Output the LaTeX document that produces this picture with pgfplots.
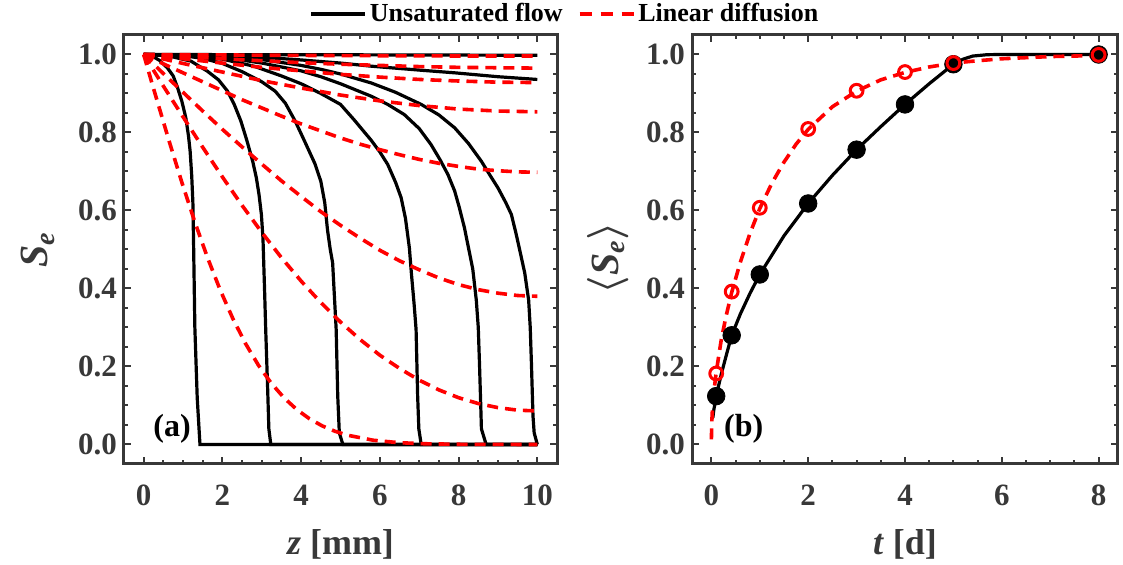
\documentclass[border=0pt]{standalone}
\usepackage{fontspec}
\setmainfont{Liberation Serif}
\usepackage{pgfplots}
\pgfplotsset{compat=1.18}
\definecolor{framegray}{gray}{0.22}
\begin{document}
\begin{tikzpicture}
\pgfplotsset{
  every axis/.append style={
    scale only axis,
    height=214.5pt,
    ymin=-0.05, ymax=1.05,
    ytick={0,0.2,0.4,0.6,0.8,1.0},
    minor tick num=3,
    axis line style={line width=1.5pt, framegray},
    major tick length=3.5pt, minor tick length=2pt,
    every tick/.style={framegray, line width=1pt},
    tick label style={font=\bfseries\fontsize{15.5}{18}\selectfont, text=framegray},
    /pgf/number format/assume math mode=true,
    yticklabel style={/pgf/number format/fixed, /pgf/number format/fixed zerofill, /pgf/number format/precision=1},
    xticklabel style={yshift=-7pt},
    xlabel style={font=\bfseries\fontsize{18}{21}\selectfont, text=framegray, at={(axis description cs:0.5,-0.187)}, anchor=center},
    ylabel style={font=\bfseries\fontsize{20}{23}\selectfont, text=framegray, anchor=center},
  },
  blk/.style={black, line width=1.6pt, forget plot},
  rdd/.style={red, line width=1.8pt, dash pattern=on 5.5pt off 3.5pt, forget plot},
}
% ---------------- panel (a) ----------------
\begin{axis}[at={(0pt,0pt)}, anchor=south west, width=216.5pt,
  xmin=-0.5, xmax=10.5, xtick={0,2,4,6,8,10},
  xlabel={\textit{z} [mm]},
  ylabel={\textit{S}\textsubscript{\textit{e}}},
  ylabel style={at={(axis description cs:-0.199,0.5)}},
  legend style={at={(axis description cs:1.0196,1.049)}, anchor=center, draw=none, fill=none,
    font=\bfseries\fontsize{13}{15}\selectfont, legend columns=2,
    /tikz/every even column/.append style={column sep=6pt},
    nodes={inner sep=1.5pt}},
  legend image code/.code={\draw[#1] (0pt,0pt) -- (27pt,0pt);},
]
\addlegendimage{black, line width=1.6pt}
\addlegendentry{Unsaturated flow}
\addlegendimage{red, line width=1.8pt, dash pattern=on 6pt off 4.5pt}
\addlegendentry{Linear diffusion}
% unsaturated flow profiles
\addplot[blk] coordinates {(0,1) (0.2,0.997) (0.4,0.985) (0.6,0.966) (0.75,0.945) (0.86,0.915) (0.97,0.88) (1.07,0.838) (1.14,0.79) (1.18,0.752) (1.22,0.69) (1.25,0.62) (1.27,0.5) (1.30,0.3) (1.36,0.12) (1.43,0) (10,0)};
\addplot[blk] coordinates {(0,1) (0.6,0.997) (1.2,0.983) (1.62,0.957) (1.9,0.935) (2.13,0.906) (2.3,0.872) (2.47,0.829) (2.62,0.78) (2.77,0.726) (2.86,0.685) (2.93,0.641) (2.99,0.59) (3.03,0.53) (3.07,0.4) (3.10,0.295) (3.15,0.141) (3.18,0.04) (3.23,0) (10,0)};
\addplot[blk] coordinates {(0,1) (1,0.997) (1.5,0.99) (2,0.977) (2.5,0.956) (3,0.93) (3.34,0.906) (3.6,0.875) (3.85,0.829) (4.1,0.775) (4.35,0.72) (4.5,0.675) (4.6,0.62) (4.67,0.55) (4.74,0.50) (4.80,0.466) (4.89,0.295) (4.93,0.124) (4.97,0.03) (5.06,0) (10,0)};
\addplot[blk] coordinates {(0,1) (1,0.998) (2,0.988) (2.8,0.97) (3.5,0.945) (4.0,0.925) (4.5,0.90) (5.0,0.872) (5.35,0.832) (5.78,0.78) (6.0,0.75) (6.2,0.718) (6.4,0.672) (6.54,0.633) (6.65,0.58) (6.75,0.504) (6.8,0.44) (6.87,0.36) (6.92,0.295) (6.96,0.124) (6.99,0.04) (7.05,0) (10,0)};
\addplot[blk] coordinates {(0,1) (1,0.999) (2,0.993) (3,0.978) (4,0.958) (4.5,0.943) (5.0,0.925) (5.78,0.893) (6.2,0.872) (6.62,0.846) (7.0,0.81) (7.30,0.769) (7.53,0.73) (7.73,0.692) (7.9,0.65) (8.02,0.607) (8.15,0.555) (8.26,0.50) (8.36,0.45) (8.45,0.37) (8.50,0.30) (8.53,0.21) (8.56,0.11) (8.58,0.04) (8.70,0) (10,0)};
\addplot[blk] coordinates {(0,1) (1,0.999) (2,0.996) (3,0.987) (4,0.972) (4.5,0.962) (5.0,0.95) (5.78,0.927) (6.4,0.903) (7.05,0.872) (7.5,0.845) (7.9,0.812) (8.25,0.772) (8.58,0.726) (8.8,0.69) (9.0,0.658) (9.2,0.62) (9.34,0.59) (9.45,0.545) (9.55,0.50) (9.68,0.44) (9.78,0.37) (9.82,0.30) (9.85,0.209) (9.89,0.073) (9.92,0.03) (10,0)};
\addplot[blk] coordinates {(0,1) (1,0.999) (2,0.997) (3,0.993) (4,0.986) (5,0.978) (5.78,0.970) (7,0.96) (7.9,0.953) (9,0.943) (10,0.936)};
\addplot[blk] coordinates {(0,1) (3,0.9995) (6,0.999) (10,0.998)};
% linear diffusion profiles
\addplot[rdd] coordinates {(0,1) (0.1,0.965) (0.2,0.930) (0.324,0.8875) (0.648,0.7773) (0.972,0.6714) (1.296,0.5716) (1.62,0.4795) (1.944,0.3961) (2.268,0.3222) (2.592,0.2579) (2.916,0.2031) (3.24,0.1573) (3.564,0.1198) (3.888,0.0897) (4.212,0.066) (4.536,0.0477) (4.86,0.0339) (5.184,0.0237) (5.832,0.0109) (6.48,0.0047) (7.128,0.0019) (8.1,0.0004) (10,0)};
\addplot[rdd] coordinates {(0,1) (0.5,0.919) (1,0.840) (1.5,0.762) (2,0.686) (2.5,0.613) (3,0.544) (3.5,0.479) (4,0.419) (4.5,0.364) (5,0.314) (5.5,0.269) (6,0.229) (6.5,0.195) (7,0.165) (7.5,0.140) (8,0.120) (8.5,0.105) (9,0.0945) (9.5,0.088) (10,0.086)};
\addplot[rdd] coordinates {(0,1) (0.5,0.951) (1,0.903) (1.5,0.855) (2,0.808) (2.5,0.763) (3,0.719) (3.5,0.676) (4,0.636) (4.5,0.597) (5,0.562) (5.5,0.529) (6,0.498) (6.5,0.471) (7,0.448) (7.5,0.427) (8,0.410) (8.5,0.397) (9,0.388) (9.5,0.382) (10,0.380)};
\addplot[rdd] coordinates {(0,1) (0.5,0.976) (1,0.953) (1.5,0.930) (2,0.907) (2.5,0.884) (3,0.863) (3.5,0.842) (4,0.822) (4.5,0.804) (5,0.786) (5.5,0.770) (6,0.756) (6.5,0.743) (7,0.731) (7.5,0.721) (8,0.713) (8.5,0.706) (9,0.702) (9.5,0.699) (10,0.698)};
\addplot[rdd] coordinates {(0,1) (1,0.977) (2,0.955) (3,0.933) (4,0.914) (5,0.896) (6,0.881) (7,0.869) (8,0.860) (9,0.855) (10,0.853)};
\addplot[rdd] coordinates {(0,1) (1,0.989) (2,0.978) (3,0.967) (4,0.958) (5,0.949) (6,0.942) (7,0.936) (8,0.932) (9,0.929) (10,0.928)};
\addplot[rdd] coordinates {(0,1) (1,0.995) (2,0.989) (3,0.984) (4,0.979) (5,0.975) (6,0.972) (7,0.969) (8,0.967) (9,0.966) (10,0.965)};
\addplot[rdd] coordinates {(0,1) (1,0.9994) (2,0.9988) (3,0.9982) (4,0.9976) (5,0.9972) (6,0.9968) (7,0.9964) (8,0.9962) (9,0.996) (10,0.996)};
\node[font=\bfseries\fontsize{16}{19}\selectfont] at (axis cs:0.72,0.04) {(a)};
\end{axis}
% ---------------- panel (b) ----------------
\begin{axis}[at={(284pt,0pt)}, anchor=south west, width=213pt,
  xmin=-0.4, xmax=8.4, xtick={0,2,4,6,8},
  xlabel={\textit{t} [d]},
  ylabel={{\boldmath$\langle$}\textit{S}\textsubscript{\textit{e}}{\boldmath$\rangle$}},
  ylabel style={at={(axis description cs:-0.197,0.48)}},
]
\addplot[blk] coordinates {(0.03,0.068) (0.05,0.088) (0.1,0.124) (0.2,0.178) (0.3,0.225) (0.42,0.28) (0.6,0.335) (0.8,0.388) (1,0.436) (1.5,0.535) (2,0.618) (2.5,0.69) (3,0.756) (3.5,0.815) (4,0.872) (4.5,0.925) (5,0.975) (5.2,0.988) (5.4,0.996) (5.7,0.9995) (6,1.0) (8,1.0)};
\addplot[only marks, mark=*, mark size=4.4pt, mark options={fill=black, draw=black, line width=0.4pt}, forget plot] coordinates {(0.1,0.124) (0.42,0.28) (1,0.436) (2,0.618) (3,0.756) (4,0.872) (5,0.975) (8,1.0)};
\addplot[rdd] coordinates {(0.0005,0.013) (0.01,0.06) (0.02,0.085) (0.05,0.133) (0.1,0.185) (0.2,0.265) (0.3,0.327) (0.42,0.39) (0.6,0.468) (0.8,0.542) (1.0,0.605) (1.25,0.67) (1.5,0.724) (1.75,0.77) (2,0.808) (2.5,0.866) (3,0.906) (3.5,0.935) (4,0.954) (4.5,0.968) (5,0.978) (5.5,0.984) (6,0.989) (7,0.9947) (8,0.9974)};
\addplot[only marks, mark=o, mark size=3.2pt, mark options={draw=red, line width=1.5pt, solid}, forget plot] coordinates {(0.1,0.182) (0.42,0.392) (1,0.607) (2,0.809) (3,0.907) (4,0.955) (5,0.978) (8,0.999)};
\node[font=\bfseries\fontsize{16}{19}\selectfont] at (axis cs:0.67,0.04) {(b)};
\end{axis}
\pgfresetboundingbox
\path[use as bounding box] (-62pt,-50.5pt) rectangle (499.5pt,232pt);
\end{tikzpicture}
\end{document}
